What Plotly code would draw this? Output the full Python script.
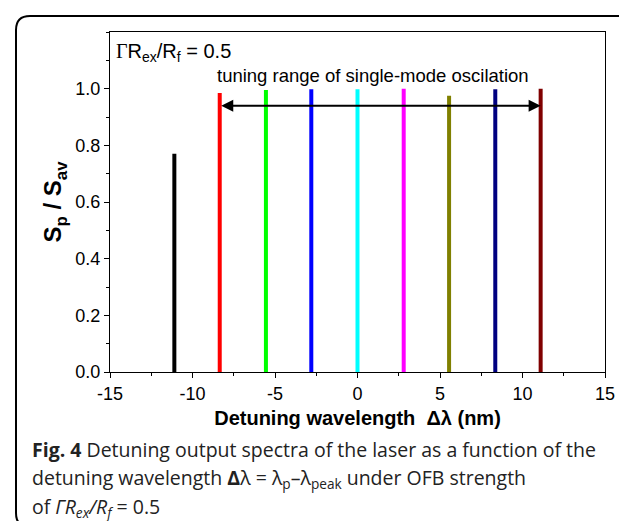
import plotly.graph_objects as go

# Data
detuning = [-11.1, -8.35, -5.55, -2.8, 0.0, 2.8, 5.55, 8.35, 11.1]
sp_sav = [0.77, 0.985, 0.995, 0.998, 0.998, 1.0, 0.975, 0.998, 1.0]
colors = ["#000000", "#FF0000", "#00FF00", "#0000FF", "#00FFFF",
          "#FF00FF", "#808000", "#000080", "#800000"]
x_ticks = [-15, -10, -5, 0, 5, 10, 15]
x_ticklabels = ["-15", "-10", "-5", "0", "5", "10", "15"]
y_ticks = [0.0, 0.2, 0.4, 0.6, 0.8, 1.0]
y_ticklabels = ["0.0", "0.2", "0.4", "0.6", "0.8", "1.0"]
arrow_range = [-8.35, 11.1]
arrow_y = 0.94

W, H = 627, 521
ML, MR, MT, MB = 102, 30, 24, 157
PW, PH = W - ML - MR, H - MT - MB

def px(x):
    return (x - ML) / PW

def py(y):
    return (H - MB - y) / PH

fig = go.Figure()
for x, y, c in zip(detuning, sp_sav, colors):
    fig.add_trace(go.Scatter(x=[x, x], y=[0, y], mode="lines",
                             line=dict(color=c, width=4), showlegend=False,
                             hoverinfo="skip"))

font_family = "Liberation Sans, Arial, sans-serif"

fig.update_layout(
    width=W, height=H,
    margin=dict(l=ML, r=MR, t=MT, b=MB),
    paper_bgcolor="white", plot_bgcolor="white",
    font=dict(family=font_family, color="black", size=18),
    xaxis=dict(range=[-15, 15], tickvals=x_ticks, ticktext=x_ticklabels,
               ticks="outside", ticklen=5,
               tickwidth=1, tickcolor="black", showgrid=False, zeroline=False,
               showline=True, linecolor="black", linewidth=1, mirror=True,
               tickfont=dict(size=18),
               minor=dict(dtick=2.5, tick0=-15, ticks="outside", ticklen=3,
                          tickcolor="black"),
               title=dict(text="<b>Detuning wavelength  Δλ (nm)</b>",
                          font=dict(size=20), standoff=8)),
    yaxis=dict(range=[0, 1.2], tickvals=y_ticks, ticktext=y_ticklabels,
               ticks="outside", ticklen=5,
               tickwidth=1, tickcolor="black", showgrid=False, zeroline=False,
               showline=True, linecolor="black", linewidth=1, mirror=True,
               tickfont=dict(size=18),
               minor=dict(dtick=0.1, tick0=0, ticks="outside", ticklen=3,
                          tickcolor="black"),
               title=dict(text="<b>S<sub>p</sub> / S<sub>av</sub></b>",
                          font=dict(size=24), standoff=6)),
)

# arrow (double-headed)
fig.add_annotation(x=arrow_range[1], y=arrow_y, ax=arrow_range[0], ay=arrow_y,
                   xref="x", yref="y", axref="x", ayref="y", text="",
                   showarrow=True, arrowhead=2, arrowside="end+start",
                   arrowsize=1.2, arrowwidth=2, arrowcolor="black")
fig.add_annotation(x=0.95, y=1.045, xref="x", yref="y",
                   text="tuning range of single-mode oscilation",
                   showarrow=False, font=dict(size=18.5), yanchor="middle")
fig.add_annotation(x=px(106), y=py(44), xref="paper", yref="paper",
                   text=("<span style=\"font-family:Liberation Serif, serif\">Γ</span>"
                         "R<sub>ex</sub>/R<sub>f</sub> = 0.5"), showarrow=False,
                   xanchor="left", yanchor="middle", font=dict(size=20))

# caption
cap_font = dict(family="Open Sans, Noto Sans, sans-serif", size=19.5, color="#222222")
caption = [
    "<b>Fig. 4</b> Detuning output spectra of the laser as a function of the",
    "detuning wavelength <b>Δ</b>λ = λ<sub>p</sub>–λ<sub>peak</sub> under OFB strength",
    "of <i>ΓR<sub>ex</sub>/R<sub>f</sub></i> = 0.5",
]
for i, line in enumerate(caption):
    fig.add_annotation(x=px(22), y=py(441 + 29 * i), xref="paper", yref="paper",
                       text=line, showarrow=False, xanchor="left",
                       yanchor="middle", font=cap_font)

# outer rounded frame
r = 14
x0, y0, x1, y1 = 8, 8, 640, 519
path = (f"M {px(x1)},{py(y0)} L {px(x0 + r)},{py(y0)} "
        f"Q {px(x0)},{py(y0)} {px(x0)},{py(y0 + r)} "
        f"L {px(x0)},{py(y1 - r)} Q {px(x0)},{py(y1)} {px(x0 + r)},{py(y1)}")
fig.add_shape(type="path", path=path, xref="paper", yref="paper",
              line=dict(color="black", width=2))

fig.write_html("out.html")
